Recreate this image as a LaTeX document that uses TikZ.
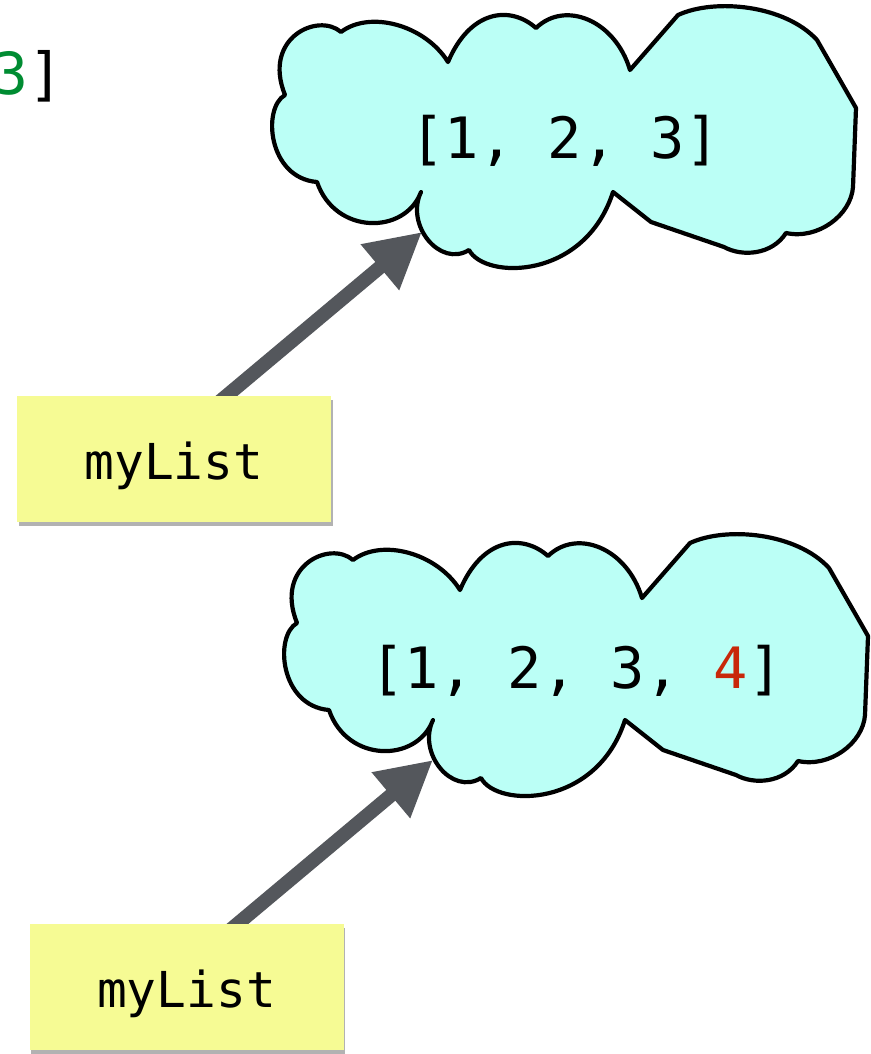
\documentclass[tikz,border=0pt]{standalone}
\usepackage{fontspec}
\setmonofont{DejaVu Sans Mono}
\usetikzlibrary{arrows.meta,shadows}

\definecolor{cloudfill}{RGB}{187,255,246}
\definecolor{notefill}{RGB}{246,251,148}
\definecolor{refgray}{RGB}{84,87,92}
\definecolor{codegreen}{RGB}{0,140,50}
\definecolor{codered}{RGB}{200,40,10}

% outline of the value cloud, in local pixel-like units
\newcommand\cloudoutline{%
  (341,32) .. controls (318,12) and (262,38) .. (285,95)
  .. controls (262,108) and (268,178) .. (317,182)
  .. controls (335,235) and (405,235) .. (421,192)
  .. controls (405,225) and (440,268) .. (469,250)
  .. controls (485,280) and (585,280) .. (613,192)
  -- (651,222) -- (724,247)
  .. controls (742,257) and (772,255) .. (786,233)
  .. controls (818,240) and (851,215) .. (853,187)
  -- (856,108) -- (817,40)
  .. controls (785,5) and (715,-2) .. (678,15)
  -- (630,70)
  .. controls (615,20) and (565,0) .. (536,28)
  .. controls (510,5) and (470,10) .. (448,62)
  .. controls (425,25) and (370,10) .. (341,32) -- cycle}

\begin{document}
\begin{tikzpicture}[x=1pt,y=-1pt,
  cloud/.style={draw=black, line width=4.2pt, line join=round, fill=cloudfill},
  listtext/.style={inner sep=0pt, anchor=base, font=\ttfamily\fontsize{57}{68}\selectfont},
  varbox/.style={fill=notefill, minimum width=314pt, minimum height=126pt, inner sep=0pt,
    text height=40pt, text depth=0pt, font=\ttfamily\fontsize{49.5}{59}\selectfont,
    drop shadow={shadow xshift=1.5pt, shadow yshift=-3.5pt, opacity=0.3, fill=black}},
  refarrow/.style={draw=refgray, line width=14pt, -{Triangle[length=55pt,width=56pt]}}]

\useasboundingbox (0,0) rectangle (870,1054);

% tail of a list literal running off the left edge
\node[inner sep=0pt, anchor=base east, font=\ttfamily\fontsize{58}{70}\selectfont]
  (prev) at (64,95) {\textcolor{codegreen}{3}]};

% first value: [1, 2, 3]
\path[cloud] \cloudoutline;
\node[listtext] (val1) at (565,158) {[1, 2, 3]};

% second value: [1, 2, 3, 4]
\begin{scope}[shift={(12,528)}]
  \path[cloud] \cloudoutline;
\end{scope}
\node[listtext] (val2) at (576.5,688) {[1, 2, 3, \textcolor{codered}{4}]};

% references from the variable to its value
\coordinate (tip1) at (422,232);
\coordinate (tail1) at (218,403);
\coordinate (tip2) at (433,760);
\coordinate (tail2) at (229,931);
\draw[refarrow] (tail1) -- (tip1);
\draw[refarrow] (tail2) -- (tip2);

% variable name notes
\node[varbox] (var1) at (174,459) {myList};
\node[varbox] (var2) at (186.5,987) {myList};

\end{tikzpicture}
\end{document}
